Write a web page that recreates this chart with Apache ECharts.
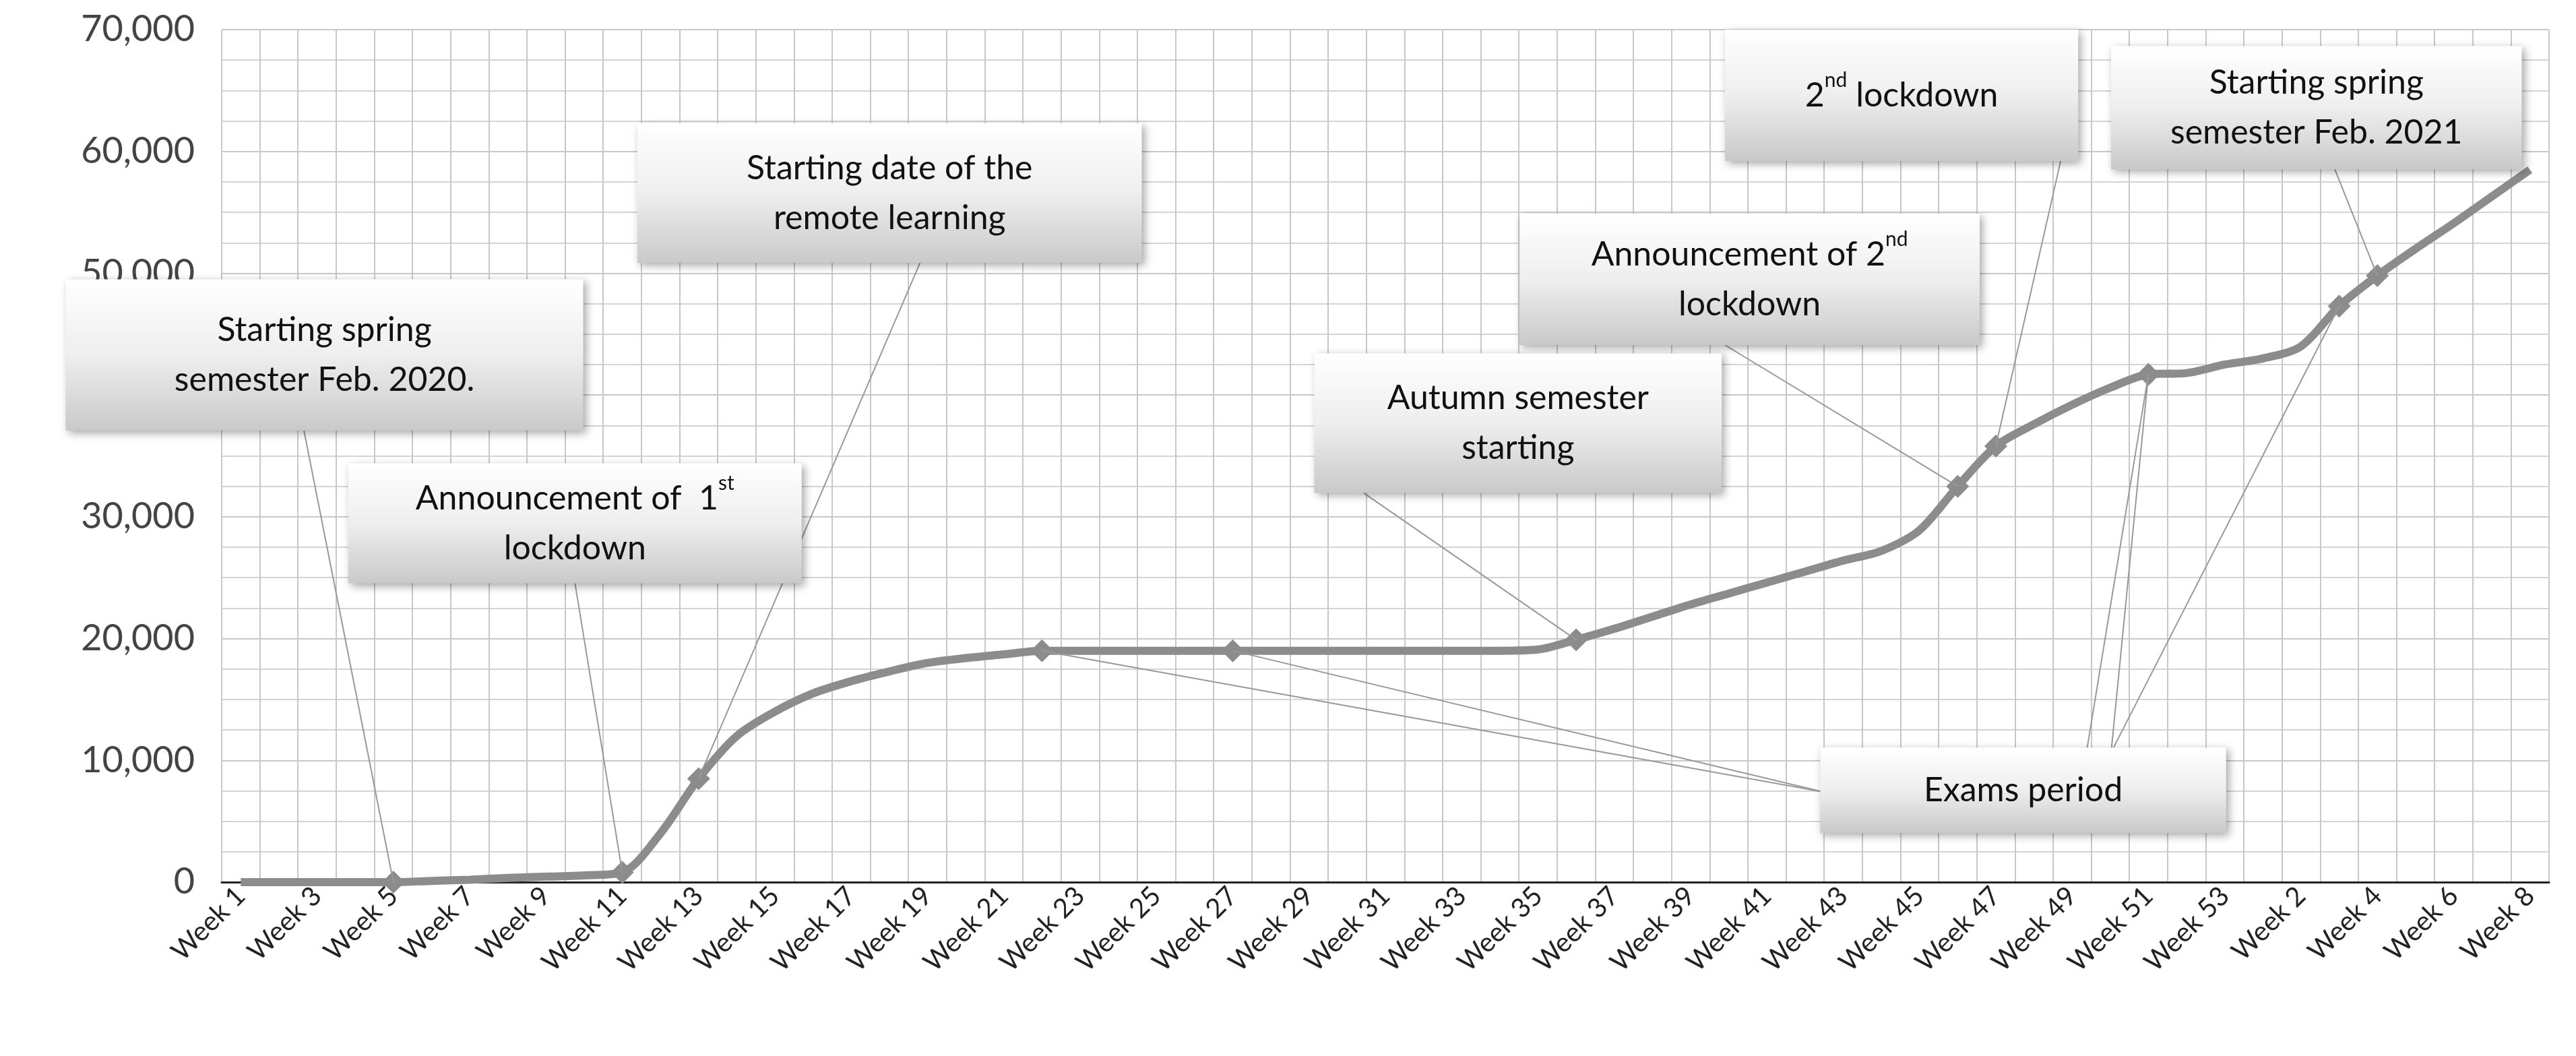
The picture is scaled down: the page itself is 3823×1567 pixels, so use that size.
<!DOCTYPE html>
<html>
<head>
<meta charset="utf-8">
<script src="https://cdn.jsdelivr.net/npm/echarts@6/dist/echarts.min.js"></script>
<style>html,body{margin:0;padding:0;background:#fff}#main{width:3823px;height:1567px}</style>
</head>
<body>
<div id="main"></div>
<script>
// categories: 2020 weeks 1-53, then 2021 weeks 1-8
var weeks2020 = [];
for (var i = 1; i <= 53; i++) weeks2020.push('Week ' + i);
var weeks2021 = ['Week 1', 'Week 2', 'Week 3', 'Week 4', 'Week 5', 'Week 6', 'Week 7', 'Week 8'];
var categories = weeks2020.concat(weeks2021);

var values = [
  0, 0, 0, 0, 0, 100, 200, 350, 450, 550,
  800, 4000, 8500, 12000, 14000, 15500, 16500, 17300, 18000, 18400,
  18700, 19000, 19000, 19000, 19000, 19000, 19000, 19000, 19000, 19000,
  19000, 19000, 19000, 19000, 19100, 19900, 20800, 21800, 22800, 23700,
  24600, 25500, 26400, 27200, 28900, 32500, 35800, 37600, 39200, 40600,
  41700, 41800, 42500, 43000, 44000, 47300, 49800, 52000, 54100, 56300, 58500
];
var markerIdx = [4, 10, 12, 21, 26, 35, 45, 46, 50, 55, 56];
var yTicks = [0, 10000, 20000, 30000, 40000, 50000, 60000, 70000];

var k = 3823 / 1568;
var FONT = 'Lato';

var chart = echarts.init(document.getElementById('main'));
var seriesData = values.map(function (v, i) {
  return markerIdx.indexOf(i) >= 0
    ? { value: v, symbol: 'diamond', symbolSize: 34, itemStyle: { color: '#8c8c8c' } }
    : { value: v, symbol: 'none' };
});

chart.setOption({
  animation: false,
  backgroundColor: '#fff',
  grid: { left: 329, right: 40, top: 44, bottom: 258 },
  xAxis: {
    type: 'category', data: categories, boundaryGap: true,
    axisLine: { lineStyle: { color: '#222', width: 3 } },
    axisTick: { show: false },
    axisLabel: { interval: 1, rotate: 45, fontSize: 40, color: '#222', fontFamily: FONT, margin: 14 },
    splitLine: { show: true, interval: 0, lineStyle: { color: '#c8c8c8', width: 2 } }
  },
  yAxis: {
    type: 'value', min: 0, max: 70000, interval: 10000,
    axisLine: { show: false }, axisTick: { show: false },
    axisLabel: { fontSize: 54, color: '#444', fontFamily: FONT, margin: 40,
      formatter: function (v) { return yTicks.indexOf(v) >= 0 ? v.toLocaleString('en-US') : ''; } },
    splitLine: { lineStyle: { color: '#c8c8c8', width: 2 } },
    minorTick: { show: false, splitNumber: 4 },
    minorSplitLine: { show: true, lineStyle: { color: '#d4d4d4', width: 2 } }
  },
  series: [{
    type: 'line', data: seriesData, smooth: 0.3,
    lineStyle: { color: '#8c8c8c', width: 12 }
  }]
});

// callout boxes (display coords) and lines to data points
var boxes = [
  { x: 40, y: 170, w: 315, h: 92, lines: ['Starting spring', 'semester Feb. 2020.'], links: [[185, 262, 4]] },
  { x: 212, y: 282, w: 276, h: 73, lines: ['Announcement of  1{s|st}', 'lockdown'], links: [[350, 355, 10]] },
  { x: 388, y: 75, w: 307, h: 85, lines: ['Starting date of the', 'remote learning'], links: [[560, 160, 12]] },
  { x: 800, y: 215, w: 248, h: 85, lines: ['Autumn semester', 'starting'], links: [[830, 300, 35]] },
  { x: 925, y: 130, w: 280, h: 80, lines: ['Announcement of 2{s|nd}', 'lockdown'], links: [[1050, 210, 45]] },
  { x: 1050, y: 18, w: 215, h: 80, lines: ['2{s|nd} lockdown'], links: [[1255, 95, 46]] },
  { x: 1285, y: 28, w: 250, h: 75, lines: ['Starting spring', 'semester Feb. 2021'], links: [[1420, 100, 56]] },
  { x: 1108, y: 455, w: 247, h: 52, lines: ['Exams period'],
    links: [[1110, 482, 21], [1110, 482, 26], [1285, 458, 50], [1270, 458, 50], [1285, 458, 55]] }
];

var graphics = [];
boxes.forEach(function (b) {
  b.links.forEach(function (l) {
    var p = chart.convertToPixel({ seriesIndex: 0 }, [l[2], values[l[2]]]);
    graphics.push({ type: 'line', z: 5, shape: { x1: l[0] * k, y1: l[1] * k, x2: p[0], y2: p[1] },
      style: { stroke: '#999', lineWidth: 2 } });
  });
});
boxes.forEach(function (b) {
  graphics.push({
    type: 'rect', z: 10,
    shape: { x: b.x * k, y: b.y * k, width: b.w * k, height: b.h * k },
    style: {
      fill: new echarts.graphic.LinearGradient(0, 0, 0, 1, [
        { offset: 0, color: '#ffffff' }, { offset: 0.5, color: '#eeeeee' }, { offset: 1, color: '#c9c9c9' }]),
      shadowBlur: 12, shadowColor: 'rgba(0,0,0,0.35)', shadowOffsetX: 4, shadowOffsetY: 4
    }
  });
  graphics.push({
    type: 'text', z: 11,
    x: (b.x + b.w / 2) * k, y: (b.y + b.h / 2) * k,
    style: {
      text: b.lines.join('\n'), align: 'center', verticalAlign: 'middle',
      font: '50px ' + FONT, fill: '#111', lineHeight: 74,
      rich: { s: { fontSize: 30, verticalAlign: 'top', fill: '#111', fontFamily: FONT, padding: [0, 0, 20, 0] } }
    }
  });
});
chart.setOption({ graphic: graphics });
</script>
</body>
</html>
